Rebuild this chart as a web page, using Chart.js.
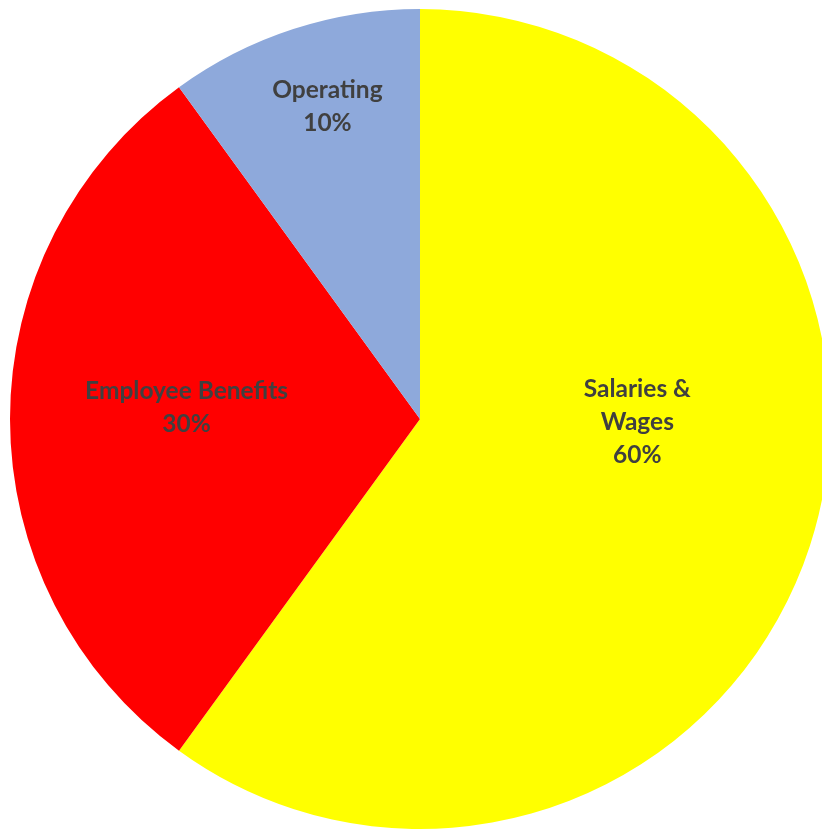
<!DOCTYPE html>
<html>
<head>
<meta charset="utf-8">
<script src="https://cdn.jsdelivr.net/npm/chart.js@4"></script>
<style>
  html, body { margin: 0; padding: 0; background: #ffffff; overflow: hidden; }
  #wrap { width: 822px; height: 830px; overflow: hidden; position: relative; }
  canvas { position: absolute; left: 0; top: 0; }
</style>
</head>
<body>
<div id="wrap"><canvas id="pie" width="840" height="838"></canvas></div>
<script>
// Budget breakdown
const categories = ["Salaries & Wages", "Employee Benefits", "Operating"];
const shares = [60, 30, 10];
const sliceColors = ["#FFFF00", "#FF0000", "#8EA9DB"];

// Label text lines for each slice
const labelLines = [
  ["Salaries &", "Wages", "60%"],
  ["Employee Benefits", "30%"],
  ["Operating", "10%"]
];
// Label anchor in polar form: degrees clockwise from 12 o'clock, fraction of radius
const labelAngle = [90.8, 272.7, 343.5];
const labelRadius = [0.53, 0.57, 0.795];

const sliceLabels = {
  id: "sliceLabels",
  afterDatasetsDraw(chart) {
    const ctx = chart.ctx;
    const arcs = chart.getDatasetMeta(0).data;
    ctx.save();
    ctx.font = "bold 24.5px Lato";
    ctx.fillStyle = "#404040";
    ctx.textAlign = "center";
    ctx.textBaseline = "middle";
    const lineH = 33;
    arcs.forEach((arc, i) => {
      const a = labelAngle[i] * Math.PI / 180;
      const d = arc.outerRadius * labelRadius[i];
      const cx = arc.x + d * Math.sin(a);
      const cy = arc.y - d * Math.cos(a);
      const lines = labelLines[i];
      const top = cy - (lines.length - 1) * lineH / 2;
      lines.forEach((t, k) => ctx.fillText(t, cx, top + k * lineH));
    });
    ctx.restore();
  }
};

new Chart(document.getElementById("pie"), {
  type: "pie",
  data: {
    labels: categories,
    datasets: [{
      data: shares,
      backgroundColor: sliceColors,
      borderWidth: 0
    }]
  },
  options: {
    responsive: false,
    animation: false,
    devicePixelRatio: 1,
    layout: { padding: { left: 10, right: 10, top: 9, bottom: 9 } },
    plugins: {
      legend: { display: false },
      tooltip: { enabled: false }
    }
  },
  plugins: [sliceLabels]
});
</script>
</body>
</html>
